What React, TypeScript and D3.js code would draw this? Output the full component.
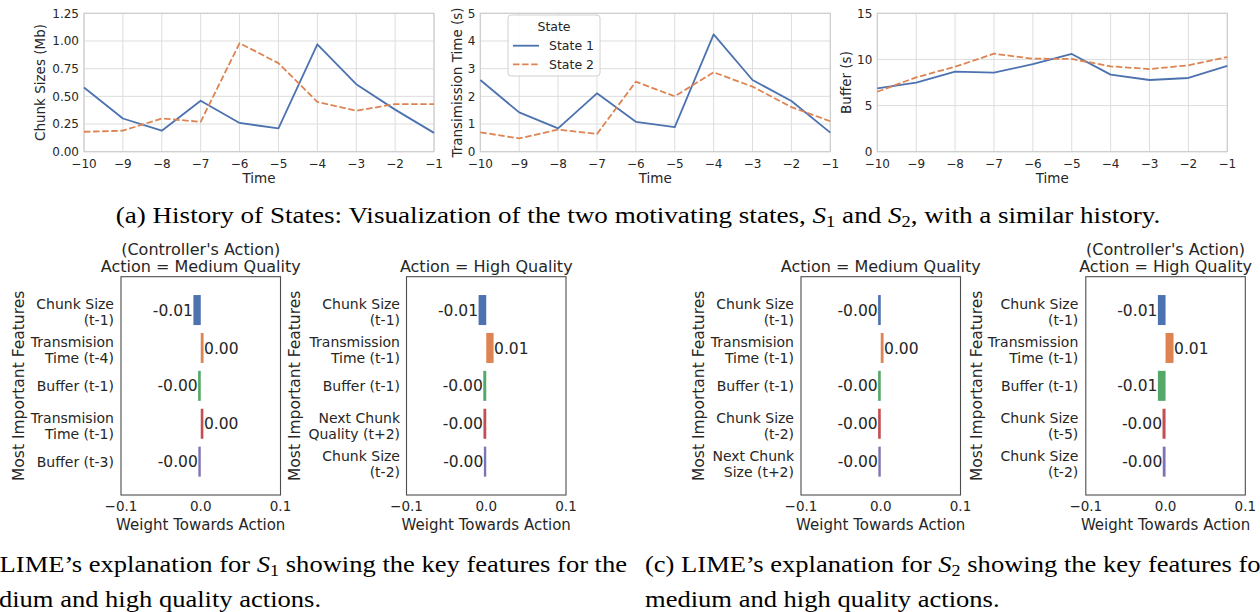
import React from "react";
import * as d3 from "d3";

// ---- data ----
const times = [-10, -9, -8, -7, -6, -5, -4, -3, -2, -1];

const chunkState1 = [0.58, 0.3, 0.19, 0.46, 0.26, 0.21, 0.97, 0.61, 0.38, 0.17];
const chunkState2 = [0.18, 0.19, 0.3, 0.27, 0.98, 0.8, 0.45, 0.37, 0.43, 0.43];
const transState1 = [2.59, 1.42, 0.84, 2.11, 1.08, 0.89, 4.24, 2.59, 1.83, 0.69];
const transState2 = [0.7, 0.48, 0.8, 0.64, 2.53, 2.0, 2.87, 2.35, 1.61, 1.1];
const bufferState1 = [6.87, 7.48, 8.67, 8.56, 9.5, 10.59, 8.35, 7.77, 7.99, 9.29];
const bufferState2 = [6.5, 8.06, 9.21, 10.62, 10.08, 10.05, 9.25, 8.96, 9.36, 10.26];

const chunkTicks = [0, 0.25, 0.5, 0.75, 1.0, 1.25];
const transTicks = [0, 1, 2, 3, 4, 5];
const bufferTicks = [0, 5, 10, 15];
const weightTicks = [-0.1, 0, 0.1];

const legendLabels = ["State 1", "State 2"];

const s1MediumFeatures = ["Chunk Size\n(t-1)", "Transmision\nTime (t-4)", "Buffer (t-1)", "Transmision\nTime (t-1)", "Buffer (t-3)"];
const s1MediumWeights = [-0.0092, 0.0035, -0.0033, 0.0033, -0.003];
const s1HighFeatures = ["Chunk Size\n(t-1)", "Transmission\nTime (t-1)", "Buffer (t-1)", "Next Chunk\nQuality (t+2)", "Chunk Size\n(t-2)"];
const s1HighWeights = [-0.0096, 0.0092, -0.0037, -0.0035, -0.003];
const s2MediumFeatures = ["Chunk Size\n(t-1)", "Transmision\nTime (t-1)", "Buffer (t-1)", "Chunk Size\n(t-2)", "Next Chunk\nSize (t+2)"];
const s2MediumWeights = [-0.0033, 0.0035, -0.0033, -0.0033, -0.003];
const s2HighFeatures = ["Chunk Size\n(t-1)", "Transmission\nTime (t-1)", "Buffer (t-1)", "Chunk Size\n(t-5)", "Chunk Size\n(t-2)"];
const s2HighWeights = [-0.0096, 0.01, -0.0096, -0.0038, -0.0035];

const FONT = "DejaVu Sans, sans-serif";
const SERIF = "Liberation Serif, serif";
const TEXT = "#262626";
const GRID = "#dddddd";
const BLUE = "#4c72b0";
const ORANGE = "#dd8452";
const deep = ["#4c72b0", "#dd8452", "#55a868", "#c44e52", "#8172b3"];

const fmtTime = d3.format("d");

function LinePanel({ x0, x1, yMax, yTicks, fmt, s1, s2, label, labelX, legend }: any) {
  const top = 13.3, bottom = 151.7;
  const x = d3.scaleLinear().domain([-10, -1]).range([x0, x1]);
  const y = d3.scaleLinear().domain([0, yMax]).range([bottom, top]);
  const line = d3.line<number>().x((d, i) => x(times[i])).y(d => y(d));
  const cx = (x0 + x1) / 2;
  return (
    <g>
      {times.map(t => (
        <line key={"gx" + t} x1={x(t)} x2={x(t)} y1={top} y2={bottom} stroke={GRID} />
      ))}
      {yTicks.map((v: number) => (
        <line key={"gy" + v} x1={x0} x2={x1} y1={y(v)} y2={y(v)} stroke={GRID} />
      ))}
      <rect x={x0} y={top} width={x1 - x0} height={bottom - top} fill="none" stroke="#cccccc" strokeWidth={1.1} />
      <path d={line(s1) || ""} fill="none" stroke={BLUE} strokeWidth={1.8} strokeLinejoin="round" />
      <path d={line(s2) || ""} fill="none" stroke={ORANGE} strokeWidth={1.8} strokeDasharray="6.5,2.6" strokeLinejoin="round" />
      {times.map(t => (
        <text key={"tx" + t} x={x(t)} y={167.8} textAnchor="middle" fontSize={12} fill={TEXT} fontFamily={FONT}>
          {fmtTime(t)}
        </text>
      ))}
      {yTicks.map((v: number) => (
        <text key={"ty" + v} x={x0 - 5} y={y(v)} dy="0.36em" textAnchor="end" fontSize={12} fill={TEXT} fontFamily={FONT}>
          {fmt(v)}
        </text>
      ))}
      <text x={cx} y={183} textAnchor="middle" fontSize={13.5} fill={TEXT} fontFamily={FONT}>Time</text>
      <text transform={`translate(${labelX},${(top + bottom) / 2}) rotate(-90)`} dy="0.36em" textAnchor="middle" fontSize={13.5} fill={TEXT} fontFamily={FONT}>
        {label}
      </text>
      {legend && (
        <g>
          <rect x={508} y={15} width={92} height={61} rx={3} fill="#ffffff" fillOpacity={0.85} stroke="#d0d0d0" />
          <text x={554} y={26} dy="0.36em" textAnchor="middle" fontSize={12.5} fill={TEXT} fontFamily={FONT}>State</text>
          {legendLabels.map((lab, i) => (
            <g key={lab}>
              <line x1={513} x2={539} y1={45.7 + i * 18.6} y2={45.7 + i * 18.6} stroke={i === 0 ? BLUE : ORANGE} strokeWidth={1.8} strokeDasharray={i === 0 ? undefined : "6.5,2.6"} />
              <text x={549} y={45.7 + i * 18.6} dy="0.36em" fontSize={12.5} fill={TEXT} fontFamily={FONT}>{lab}</text>
            </g>
          ))}
        </g>
      )}
    </g>
  );
}

function LimePanel({ left, titles, features, weights, labelRight, ylabelX }: any) {
  const top = 276.7, bottom = 495, w = 159.5;
  const x = d3.scaleLinear().domain([-0.1, 0.1]).range([left, left + w]);
  const y = d3.scaleLinear().domain([-0.88, 4.88]).range([top, bottom]);
  const barH = 30;
  const fmtTick = d3.format(".1f");
  return (
    <g>
      {titles.map((t: string, i: number) => (
        <text key={t} x={left + w / 2} y={271.7 - (titles.length - 1 - i) * 17} textAnchor="middle" fontSize={16} fill={TEXT} fontFamily={FONT}>
          {t}
        </text>
      ))}
      {weights.map((v: number, i: number) => {
        const x0 = x(Math.min(0, v)), x1 = x(Math.max(0, v));
        const cy = y(i);
        return (
          <g key={i}>
            <rect x={x0} y={cy - barH / 2} width={Math.max(x1 - x0, 0.5)} height={barH} fill={deep[i]} />
            <text x={v < 0 ? x0 - 0.5 : x1 + 0.5} y={cy} dy="0.36em" textAnchor={v < 0 ? "end" : "start"} fontSize={15.5} fill={TEXT} fontFamily={FONT}>
              {v.toFixed(2)}
            </text>
          </g>
        );
      })}
      {features.map((f: string, i: number) => {
        const lines = f.split("\n");
        const cy = y(i);
        return lines.map((ln, j) => (
          <text key={i + "-" + j} x={labelRight} y={lines.length === 1 ? cy + 5 : cy - 1 + j * 16} textAnchor="end" fontSize={14} fill={TEXT} fontFamily={FONT}>
            {ln}
          </text>
        ));
      })}
      <rect x={left} y={top} width={w} height={bottom - top} fill="none" stroke="#4d4d4d" strokeWidth={1.1} />
      {weightTicks.map(v => (
        <text key={v} x={x(v)} y={511} textAnchor="middle" fontSize={13.5} fill={TEXT} fontFamily={FONT}>
          {fmtTick(v)}
        </text>
      ))}
      <text x={left + w / 2} y={530} textAnchor="middle" fontSize={15} fill={TEXT} fontFamily={FONT}>Weight Towards Action</text>
      <text transform={`translate(${ylabelX},${(top + bottom) / 2}) rotate(-90)`} dy="0.36em" textAnchor="middle" fontSize={15.5} fill={TEXT} fontFamily={FONT}>
        Most Important Features
      </text>
    </g>
  );
}

// serif caption, stretched horizontally like the LaTeX rendering
function Caption({ x, y, anchor, sx = 1.13, children }: any) {
  return (
    <g transform={`translate(${x},${y}) scale(${sx},1)`}>
      <text x={0} y={0} textAnchor={anchor || "start"} fontSize={23.5} fill="#000" fontFamily={SERIF}>
        {children}
      </text>
    </g>
  );
}

export default function App() {
  return (
    <svg width={1260} height={612} style={{ position: "absolute", left: 0, top: 0, background: "#fff" }}>
      <rect width={1260} height={612} fill="#fff" />
      <LinePanel x0={84} x1={434} yMax={1.25} yTicks={chunkTicks} fmt={d3.format(".2f")} s1={chunkState1} s2={chunkState2} label="Chunk Sizes (Mb)" labelX={40} />
      <LinePanel x0={480.3} x1={830.3} yMax={5} yTicks={transTicks} fmt={d3.format("d")} s1={transState1} s2={transState2} label="Transimission Time (s)" labelX={457} legend />
      <LinePanel x0={877.3} x1={1227.3} yMax={15} yTicks={bufferTicks} fmt={d3.format("d")} s1={bufferState1} s2={bufferState2} label="Buffer (s)" labelX={846} />

      <Caption x={638} y={222.5} anchor="middle" sx={1.153}>
        (a) History of States: Visualization of the two motivating states,{" "}
        <tspan fontStyle="italic">S</tspan>
        <tspan fontSize={16} dy={4}>1</tspan>
        <tspan dy={-4}> and </tspan>
        <tspan fontStyle="italic">S</tspan>
        <tspan fontSize={16} dy={4}>2</tspan>
        <tspan dy={-4}>, with a similar history.</tspan>
      </Caption>

      <LimePanel left={121} titles={["(Controller's Action)", "Action = Medium Quality"]} features={s1MediumFeatures} weights={s1MediumWeights} labelRight={114} ylabelX={18.3} />
      <LimePanel left={406.5} titles={["Action = High Quality"]} features={s1HighFeatures} weights={s1HighWeights} labelRight={400} ylabelX={294} />
      <LimePanel left={801} titles={["Action = Medium Quality"]} features={s2MediumFeatures} weights={s2MediumWeights} labelRight={794} ylabelX={698.3} />
      <LimePanel left={1085.8} titles={["(Controller's Action)", "Action = High Quality"]} features={s2HighFeatures} weights={s2HighWeights} labelRight={1078.3} ylabelX={976.7} />

      <Caption x={-38} y={571.7}>
        (b) LIME’s explanation for <tspan fontStyle="italic">S</tspan>
        <tspan fontSize={16} dy={4}>1</tspan>
        <tspan dy={-4}> showing the key features for the</tspan>
      </Caption>
      <Caption x={-33.5} y={606.5}>medium and high quality actions.</Caption>
      <Caption x={645} y={571.7}>
        (c) LIME’s explanation for <tspan fontStyle="italic">S</tspan>
        <tspan fontSize={16} dy={4}>2</tspan>
        <tspan dy={-4}> showing the key features for</tspan>
      </Caption>
      <Caption x={645} y={606.5}>medium and high quality actions.</Caption>
    </svg>
  );
}
